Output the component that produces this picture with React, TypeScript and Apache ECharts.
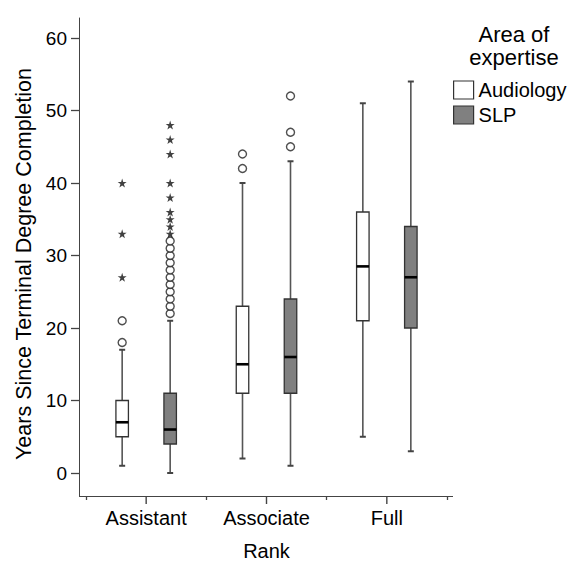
import React, { useEffect, useRef } from "react";
import * as echarts from "echarts";

// ---- data ----
const categories = ["Assistant", "Associate", "Full"];
const seriesNames = ["Audiology", "SLP"];
const yTicks = [0, 10, 20, 30, 40, 50, 60];

// [whisker low, Q1, median, Q3, whisker high] per category
const audiologyBoxes = [
  [1, 5, 7, 10, 17],
  [2, 11, 15, 23, 40],
  [5, 21, 28.5, 36, 51],
];
const slpBoxes = [
  [0, 4, 6, 11, 21],
  [1, 11, 16, 24, 43],
  [3, 20, 27, 34, 54],
];

// outliers (circles): [category index, value]
const audiologyOutliers = [
  [0, 18], [0, 21],
  [1, 42], [1, 44],
];
const slpOutliers = [
  [0, 22], [0, 23], [0, 24], [0, 25], [0, 26], [0, 27], [0, 28], [0, 29], [0, 30], [0, 31], [0, 32],
  [1, 45], [1, 47], [1, 52],
];
// extreme values (stars): [category index, value]
const audiologyExtremes = [
  [0, 27], [0, 33], [0, 40],
];
const slpExtremes = [
  [0, 33], [0, 34], [0, 35], [0, 36], [0, 38], [0, 40], [0, 44], [0, 46], [0, 48],
];

// ---- style ----
const FONT = "'Liberation Sans', Arial, Helvetica, sans-serif";
const AXIS_COLOR = "#444";
const Y_MIN = -3.17;
const Y_MAX = 62.76;
const BOX_OFFSET = 24;
const BOX_W = 12.5;
const CAP_W = 6;
const FILLS = ["#ffffff", "#808080"];
const STAR =
  "path://M0,-1L0.2245,-0.309L0.951,-0.309L0.363,0.118L0.588,0.809L0,0.382L-0.588,0.809L-0.363,0.118L-0.951,-0.309L-0.2245,-0.309Z";

function makeBoxRender(offset: number, fill: string) {
  return (_params: any, api: any) => {
    const ci = api.value(0);
    const lo = api.coord([ci, api.value(1)]);
    const q1 = api.coord([ci, api.value(2)]);
    const md = api.coord([ci, api.value(3)]);
    const q3 = api.coord([ci, api.value(4)]);
    const hi = api.coord([ci, api.value(5)]);
    const x = lo[0] + offset;
    const h = BOX_W / 2;
    const c = CAP_W / 2;
    const wStyle = { stroke: "#555", lineWidth: 1.6 };
    const capStyle = { stroke: "#444", lineWidth: 2 };
    return {
      type: "group",
      children: [
        { type: "line", shape: { x1: x, y1: lo[1], x2: x, y2: q1[1] }, style: wStyle },
        { type: "line", shape: { x1: x, y1: q3[1], x2: x, y2: hi[1] }, style: wStyle },
        { type: "line", shape: { x1: x - c, y1: lo[1], x2: x + c, y2: lo[1] }, style: capStyle },
        { type: "line", shape: { x1: x - c, y1: hi[1], x2: x + c, y2: hi[1] }, style: capStyle },
        {
          type: "rect",
          shape: { x: x - h, y: q3[1], width: BOX_W, height: q1[1] - q3[1] },
          style: { fill, stroke: "#333", lineWidth: 1.3 },
        },
        {
          type: "line",
          shape: { x1: x - h, y1: md[1], x2: x + h, y2: md[1] },
          style: { stroke: "#000", lineWidth: 2.6 },
        },
      ],
    };
  };
}

// long tick mark at each category centre
function centerTickRender(_params: any, api: any) {
  const p = api.coord([api.value(0), Y_MIN]);
  return {
    type: "line",
    shape: { x1: p[0], y1: p[1], x2: p[0], y2: p[1] + 8 },
    style: { stroke: AXIS_COLOR, lineWidth: 1.4 },
  };
}

export default function App() {
  const ref = useRef<HTMLDivElement>(null);
  useEffect(() => {
    if (!ref.current) return;
    const chart = echarts.init(ref.current, null, { renderer: "svg" });
    const boxSets = [audiologyBoxes, slpBoxes];
    const outSets = [audiologyOutliers, slpOutliers];
    const extSets = [audiologyExtremes, slpExtremes];
    const offsets = [-BOX_OFFSET, BOX_OFFSET];
    const series: any[] = [];
    seriesNames.forEach((name, k) => {
      series.push({
        name,
        type: "custom",
        renderItem: makeBoxRender(offsets[k], FILLS[k]),
        data: boxSets[k].map((b, i) => [i, ...b]),
        encode: { x: 0, y: [1, 2, 3, 4, 5] },
        itemStyle: { color: FILLS[k], borderColor: "#333" },
        z: 2,
      });
      series.push({
        name,
        type: "scatter",
        data: outSets[k],
        symbol: "circle",
        symbolSize: 8,
        symbolOffset: [offsets[k], 0],
        itemStyle: { color: "#fff", borderColor: "#222", borderWidth: 1.4 },
        z: 3,
      });
      series.push({
        name,
        type: "scatter",
        data: extSets[k],
        symbol: STAR,
        symbolSize: 9,
        symbolOffset: [offsets[k], 0],
        itemStyle: { color: "#111" },
        z: 3,
      });
    });
    series.push({
      name: "ticks",
      type: "custom",
      renderItem: centerTickRender,
      data: categories.map((_c, i) => [i]),
      encode: { x: 0 },
      clip: false,
      silent: true,
      z: 1,
    });

    chart.setOption({
      animation: false,
      backgroundColor: "#fff",
      textStyle: { fontFamily: FONT },
      grid: { left: 86, right: 136, top: 18, bottom: 65, containLabel: false, outerBoundsMode: "none" },
      xAxis: {
        type: "category",
        data: categories,
        position: "bottom",
        axisLine: { show: true, onZero: false, lineStyle: { color: AXIS_COLOR, width: 1 } },
        axisTick: { show: true, alignWithLabel: false, length: 4, lineStyle: { color: AXIS_COLOR, width: 1.3 } },
        axisLabel: { fontSize: 20, color: "#000", margin: 12, fontFamily: FONT },
        splitLine: { show: false },
        name: "Rank",
        nameLocation: "middle",
        nameGap: 45,
        nameTextStyle: { fontSize: 20, color: "#000", fontFamily: FONT },
      },
      yAxis: {
        type: "value",
        min: Y_MIN,
        max: Y_MAX,
        offset: 7,
        axisLine: { show: true, lineStyle: { color: AXIS_COLOR, width: 1 } },
        axisTick: { show: true, length: 8, customValues: yTicks, lineStyle: { color: AXIS_COLOR, width: 1.3 } },
        axisLabel: { fontSize: 19, color: "#000", margin: 12, customValues: yTicks, fontFamily: FONT },
        splitLine: { show: false },
      },
      legend: {
        orient: "vertical",
        left: 453,
        top: 80,
        padding: 0,
        itemWidth: 20,
        itemHeight: 18,
        itemGap: 5,
        textStyle: { fontSize: 20, color: "#000", fontFamily: FONT },
        data: seriesNames.map((n, k) => ({
          name: n,
          icon: "rect",
          itemStyle: { color: FILLS[k], borderColor: "#333", borderWidth: 1.2 },
        })),
        selectedMode: false,
      },
      graphic: [
        {
          type: "text",
          x: 514,
          y: 23,
          style: {
            text: "Area of\nexpertise",
            align: "center",
            verticalAlign: "top",
            fontSize: 22,
            lineHeight: 23,
            fill: "#000",
            fontFamily: FONT,
          },
        },
        {
          type: "text",
          x: 24,
          y: 264,
          rotation: Math.PI / 2,
          style: {
            text: "Years Since Terminal Degree Completion",
            align: "center",
            verticalAlign: "middle",
            fontSize: 21.5,
            fill: "#000",
            fontFamily: FONT,
          },
        },
        { type: "line", shape: { x1: 79, y1: 496.5, x2: 86, y2: 496.5 }, style: { stroke: AXIS_COLOR, lineWidth: 1 } },
        { type: "line", shape: { x1: 447, y1: 496.5, x2: 453, y2: 496.5 }, style: { stroke: AXIS_COLOR, lineWidth: 1 } },
      ],
      series,
    });
    return () => chart.dispose();
  }, []);
  return (
    <div
      ref={ref}
      style={{ position: "fixed", left: 0, top: 0, width: 583, height: 561, background: "#fff" }}
    />
  );
}
